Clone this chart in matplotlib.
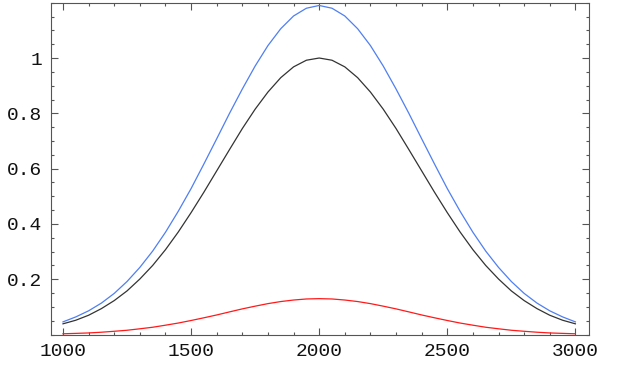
import matplotlib
matplotlib.use("Agg")
import matplotlib.pyplot as plt
from matplotlib.ticker import MultipleLocator, FuncFormatter

x = list(range(1000, 3001, 50))

# left half (1000 .. 2000), mirrored for the right half
half_black = [0.039, 0.052, 0.070, 0.094, 0.123, 0.158, 0.201, 0.250, 0.307, 0.371,
              0.441, 0.515, 0.592, 0.669, 0.745, 0.815, 0.877, 0.929, 0.968, 0.992, 1.0]
half_blue = [0.046, 0.064, 0.086, 0.114, 0.149, 0.192, 0.243, 0.302, 0.370, 0.446,
             0.528, 0.617, 0.708, 0.800, 0.888, 0.971, 1.045, 1.106, 1.152, 1.180, 1.19]
half_red = [0.003, 0.0044, 0.006, 0.0086, 0.012, 0.0157, 0.021, 0.0266, 0.034, 0.0418,
            0.051, 0.0608, 0.071, 0.0821, 0.093, 0.1028, 0.112, 0.1195, 0.125, 0.1288, 0.13]

black = half_black + half_black[-2::-1]
blue = half_blue + half_blue[-2::-1]
red = half_red + half_red[-2::-1]

fig = plt.figure(figsize=(6.19, 3.70), dpi=100)
ax = fig.add_axes([50.7/619, 1 - 334.6/370, 538/619, 331.9/370])

ax.plot(x, blue, color='#4f7ff2', lw=0.9)
ax.plot(x, black, color='#333333', lw=0.9)
ax.plot(x, red, color='#ff1a1a', lw=0.9)

ax.set_xlim(952, 3052)
ax.set_ylim(0, 1.2)

ax.xaxis.set_major_locator(MultipleLocator(500))
ax.xaxis.set_minor_locator(MultipleLocator(100))
ax.set_yticks([0.2, 0.4, 0.6, 0.8, 1.0])
ax.yaxis.set_minor_locator(MultipleLocator(0.05))
ax.yaxis.set_major_formatter(FuncFormatter(lambda v, p: '1' if abs(v - 1) < 1e-9 else '%g' % v))

ax.tick_params(which='both', direction='in', top=True, right=True,
               color='#555555', width=0.8)
ax.tick_params(which='major', length=5, labelsize=14, pad=6)
ax.tick_params(which='minor', length=2.5)
for lab in ax.get_xticklabels() + ax.get_yticklabels():
    lab.set_family('Liberation Mono')
    lab.set_color('#111111')

for s in ax.spines.values():
    s.set_color('#555555')
    s.set_linewidth(0.8)

plt.savefig('out.png', dpi=100)
